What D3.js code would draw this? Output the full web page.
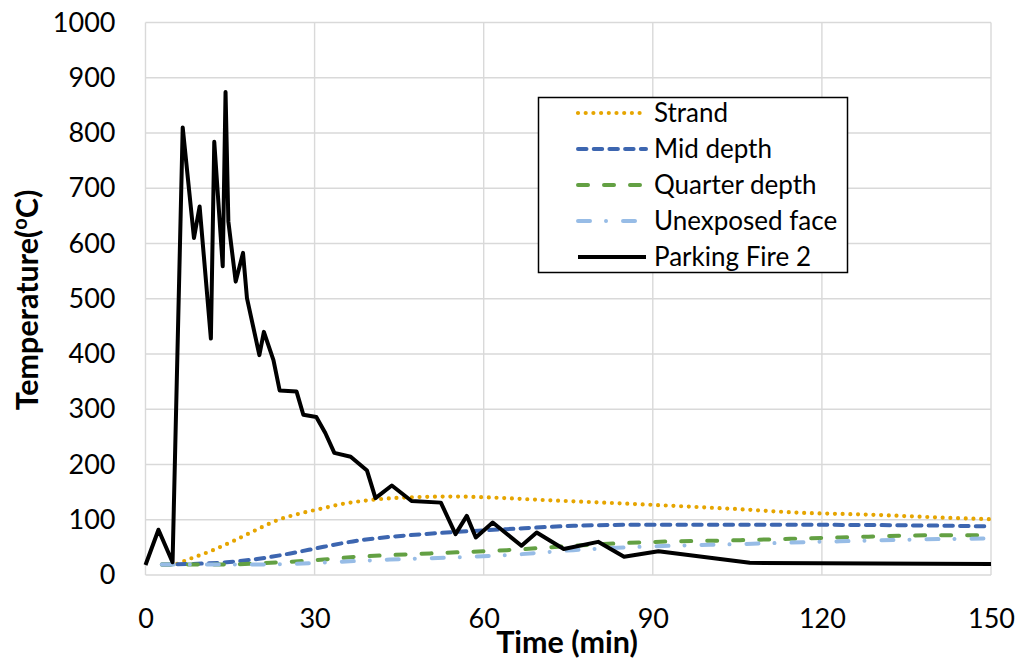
<!DOCTYPE html>
<html>
<head>
<meta charset="utf-8">
<script src="https://cdn.jsdelivr.net/npm/d3@7"></script>
<style>
  html, body { margin: 0; padding: 0; background: #fff; }
  svg { display: block; font-family: Lato, "Open Sans", sans-serif; }
</style>
</head>
<body>
<svg id="chart" width="1023" height="662"></svg>
<script>
// Fire test record: time (min) vs temperature (°C)
const fireTime = [0, 2.3, 4.8, 6.6, 8.6, 9.6, 11.6, 12.2, 13.7, 14.2, 14.7, 16.0, 17.3, 18.0, 20.2, 21.0, 22.7, 23.8, 26.8, 28.0, 30.3, 31.9, 33.5, 36.4, 39.3, 40.8, 43.7, 47.2, 52.4, 55.0, 57.0, 58.6, 61.6, 66.7, 69.4, 74.2, 80.3, 84.9, 91.0, 107.2, 150];
const fireTemp = [18, 82, 23, 810, 610, 667, 428, 784, 559, 874, 640, 531, 583, 501, 398, 440, 389, 334, 332, 290, 286, 257, 221, 214, 189, 139, 162, 134, 131, 74, 107, 68, 95, 53, 77, 47, 60, 33, 43, 22, 20];

// Slab thermocouples
const strandTime = [5.6, 7.3, 11.5, 15.7, 19.5, 23.6, 27.7, 30.7, 35.1, 39.3, 43.7, 48.1, 55.2, 59.3, 70, 87.7, 105.5, 115.5, 129, 143.6, 150];
const strandTemp = [20, 27, 43, 62, 81, 100, 112, 119, 129, 135, 139, 141, 142, 141, 136, 128, 119, 113, 109, 103, 101];

const midTime = [2.9, 10.9, 14.4, 19.8, 25.7, 31.6, 37.5, 43.4, 49.3, 55.2, 64.1, 75.9, 87.7, 111.4, 143.6, 150];
const midTemp = [19, 21, 23, 29, 39, 51, 62, 69, 74, 78, 83, 89, 91, 91, 89, 88];

const quarterTime = [2.9, 13.8, 19.8, 25.7, 31.6, 37.5, 43.4, 55.2, 64.1, 75.9, 87.7, 105.5, 123.2, 140.9, 150];
const quarterTemp = [19, 19, 21, 24, 28, 33, 36, 41, 45, 53, 59, 63, 68, 72, 72];

const unexposedTime = [2.9, 16.7, 25.7, 34.5, 43.4, 55.2, 64.1, 75.9, 87.7, 105.5, 123.2, 140.9, 150];
const unexposedTemp = [19, 19, 20, 24, 28, 32, 36, 45, 51, 56, 61, 65, 66];

const xTicks = [0, 30, 60, 90, 120, 150];
const yTicks = [0, 100, 200, 300, 400, 500, 600, 700, 800, 900, 1000];

const seriesNames = ["Strand", "Mid depth", "Quarter depth", "Unexposed face", "Parking Fire 2"];

const series = [
  { name: seriesNames[0], t: strandTime, v: strandTemp, color: "#E6A500", width: 4.2, dash: "0 7.7", cap: "round", curve: d3.curveMonotoneX },
  { name: seriesNames[1], t: midTime, v: midTemp, color: "#3D66B0", width: 4, dash: "8.5 7.2", cap: "round", curve: d3.curveMonotoneX },
  { name: seriesNames[2], t: quarterTime, v: quarterTemp, color: "#63A043", width: 4, dash: "10 16", cap: "round", curve: d3.curveMonotoneX },
  { name: seriesNames[3], t: unexposedTime, v: unexposedTemp, color: "#97BCE6", width: 4, dash: "12 16 0.01 17", cap: "round", curve: d3.curveMonotoneX },
  { name: seriesNames[4], t: fireTime, v: fireTemp, color: "#000000", width: 4, dash: null, cap: "butt", curve: d3.curveLinear }
];

const svg = d3.select("#chart");
const x = d3.scaleLinear().domain([0, 150]).range([145.5, 991]);
const y = d3.scaleLinear().domain([0, 1000]).range([575, 22.5]);

const grid = "#D9D9D9";

// Gridlines
svg.append("g").selectAll("line").data(yTicks).join("line")
  .attr("x1", x(0)).attr("x2", x(150))
  .attr("y1", d => y(d)).attr("y2", d => y(d))
  .attr("stroke", grid).attr("stroke-width", 1.4);
svg.append("g").selectAll("line").data(xTicks).join("line")
  .attr("x1", d => x(d)).attr("x2", d => x(d))
  .attr("y1", y(0)).attr("y2", y(1000))
  .attr("stroke", grid).attr("stroke-width", 1.4);

// Axes (labels only; lines come from the grid)
const yAxis = svg.append("g")
  .attr("transform", `translate(${x(0)},0)`)
  .call(d3.axisLeft(y).tickValues(yTicks).tickSize(0).tickPadding(30).tickFormat(d3.format("d")));
yAxis.select(".domain").remove();
yAxis.selectAll("text").attr("font-size", 27).attr("fill", "#000").attr("font-family", "Lato, sans-serif");

const xAxis = svg.append("g")
  .attr("transform", `translate(0,${y(0)})`)
  .call(d3.axisBottom(x).tickValues(xTicks).tickSize(0).tickPadding(34).tickFormat(d3.format("d")));
xAxis.select(".domain").remove();
xAxis.selectAll("text").attr("font-size", 27).attr("fill", "#000").attr("font-family", "Lato, sans-serif");

// Series lines
const plot = svg.append("g");
series.forEach(s => {
  const pts = s.t.map((t, i) => [t, s.v[i]]);
  const line = d3.line().x(d => x(d[0])).y(d => y(d[1])).curve(s.curve);
  plot.append("path")
    .datum(pts)
    .attr("d", line)
    .attr("fill", "none")
    .attr("stroke", s.color)
    .attr("stroke-width", s.width)
    .attr("stroke-linecap", s.cap)
    .attr("stroke-linejoin", "round")
    .attr("stroke-dasharray", s.dash);
});

// Axis titles
svg.append("text")
  .attr("x", 567).attr("y", 653)
  .attr("text-anchor", "middle")
  .attr("font-size", 30.5).attr("font-weight", "bold")
  .text("Time (min)");

const yt = svg.append("text")
  .attr("transform", "translate(38,300) rotate(-90)")
  .attr("text-anchor", "middle")
  .attr("font-size", 30.5).attr("font-weight", "bold");
yt.append("tspan").text("Temperature(");
yt.append("tspan").attr("font-size", 20).attr("dy", -11).text("o");
yt.append("tspan").attr("dy", 11).text("C)");

// Legend
const lg = svg.append("g");
lg.append("rect")
  .attr("x", 538.5).attr("y", 97.5).attr("width", 309).attr("height", 175)
  .attr("fill", "#fff").attr("stroke", "#000").attr("stroke-width", 1.5);
series.forEach((s, i) => {
  const cy = 113 + i * 36;
  lg.append("line")
    .attr("x1", 578).attr("x2", 646).attr("y1", cy).attr("y2", cy)
    .attr("stroke", s.color).attr("stroke-width", s.width)
    .attr("stroke-linecap", s.cap).attr("stroke-dasharray", s.dash);
  lg.append("text")
    .attr("x", 654).attr("y", cy).attr("dy", "0.35em")
    .attr("font-size", 26)
    .text(s.name);
});
</script>
</body>
</html>
